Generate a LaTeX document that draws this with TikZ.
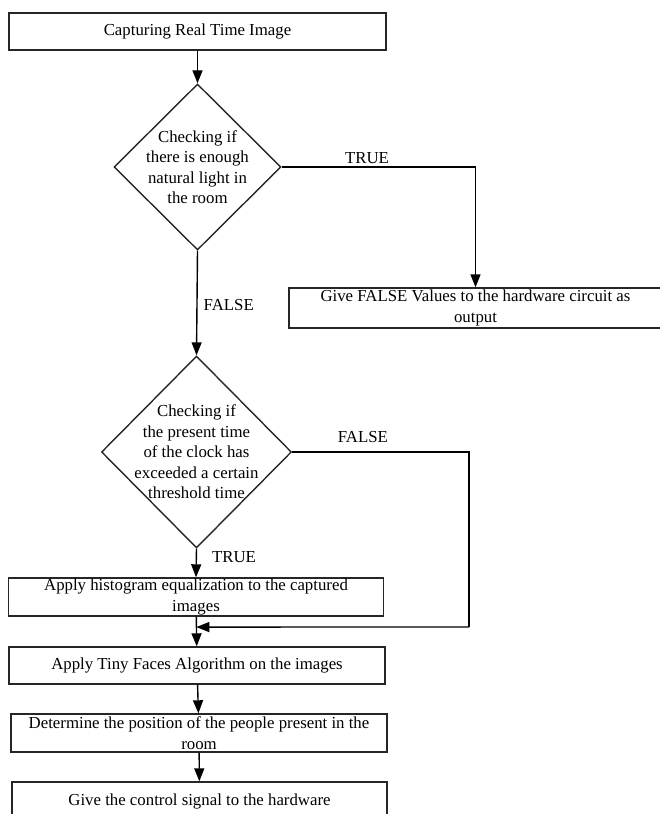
\documentclass[tikz,border=0pt]{standalone}
\usepackage{fontspec}
\setmainfont{Liberation Serif}
\usetikzlibrary{shapes.geometric,arrows.meta,calc}

\begin{document}
\begin{tikzpicture}[
    x=1pt, y=-1pt,
    line width=1.4pt,
    font=\fontsize{16.8}{20.5}\selectfont,
    %
    stage/.style={draw=black!85, rectangle, align=center, minimum height=37pt, inner sep=1pt},
    decision/.style={draw=black!85, diamond, align=center, inner sep=-25pt},
    %
    flow/.style={-{Triangle[length=13pt,width=10pt]}},
    tag/.style={inner sep=3pt}
    ]
    \useasboundingbox (0,0) rectangle (659,814);

    \node[stage, minimum width=377pt] (capture) at (197.5,31.5) {Capturing Real Time Image};
    \node[decision, minimum width=167pt, minimum height=166pt] (light) at (197.5,167)
        {Checking if\\there is enough\\natural light in\\the room};
    \node[stage, minimum width=373pt, minimum height=40pt] (falseout) at (475.5,308)
        {Give FALSE Values to the hardware circuit as\\output};
    \node[decision, minimum width=190pt, minimum height=192pt] (clock) at (196.5,452)
        {Checking if\\the present time\\of the clock has\\exceeded a certain\\threshold time};
    \node[stage, minimum width=375pt, minimum height=38pt] (histeq) at (196,597)
        {Apply histogram equalization to the captured\\images};
    \node[stage, minimum width=376pt] (tiny) at (197,665.5) {Apply Tiny Faces Algorithm on the images};
    \node[stage, minimum width=376pt, minimum height=38pt] (position) at (199,733)
        {Determine the position of the people present in the\\room};
    \node[stage, minimum width=375pt, minimum height=38pt] (signal) at (199.5,801)
        {Give the control signal to the hardware};
    %
    \coordinate (merge) at ($(histeq.south)!0.35!(tiny.north)$);
    \coordinate (turn) at (469,627);

    \draw[flow] (capture) -- (light);
    \draw[flow] (light.east) -| node[tag, above, pos=0.22] {TRUE} (falseout.north);
    \draw[flow] (light.south) -- node[tag, right, pos=0.52, xshift=3pt] {FALSE} (clock.north);
    \draw (clock.east) -| node[tag, above, pos=0.2, yshift=6pt] {FALSE} (turn);
    \draw[flow] (turn) -- (merge);
    \draw[flow] (clock.south) -- node[tag, right, pos=0.3, xshift=12pt] {TRUE} (histeq.north);
    \draw[flow] (histeq) -- (tiny);
    \draw[flow] (tiny) -- (position);
    \draw[flow] (position) -- (signal);
\end{tikzpicture}
\end{document}
